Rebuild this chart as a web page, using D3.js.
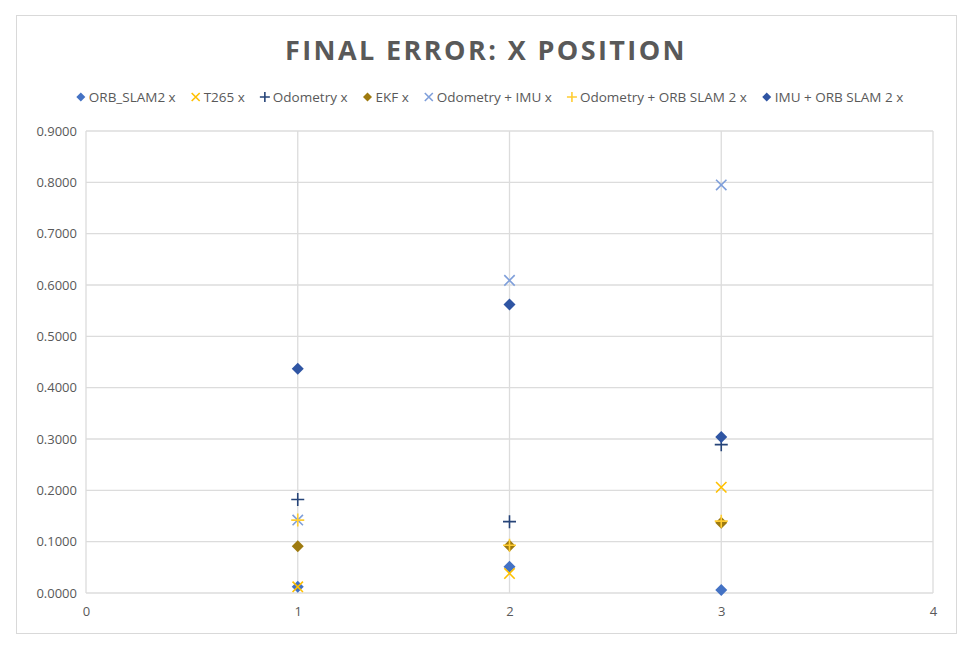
<!DOCTYPE html>
<html><head><meta charset="utf-8">
<script src="https://cdn.jsdelivr.net/npm/d3@7"></script>
<style>body{margin:0;background:#fff;}</style>
</head><body>
<svg id="c" width="970" height="648"></svg>
<script>
const categories = [1, 2, 3];
const seriesNames = ["ORB_SLAM2 x","T265 x","Odometry x","EKF x","Odometry + IMU x","Odometry + ORB SLAM 2 x","IMU + ORB SLAM 2 x"];
const orbSlam2 = [0.012, 0.051, 0.006];
const t265 = [0.012, 0.038, 0.206];
const odometry = [0.182, 0.139, 0.289];
const ekf = [0.091, 0.092, 0.137];
const odoImu = [0.142, 0.609, 0.795];
const odoOrb = [0.142, 0.093, 0.140];
const imuOrb = [0.437, 0.562, 0.304];
const yTicks = [0,0.1,0.2,0.3,0.4,0.5,0.6,0.7,0.8,0.9];
const xTicks = [0,1,2,3,4];

const shapes = ["diamond","x","plus","diamond","x","plus","diamond"];
const colors = ["#4472C4","#FFC000","#264478","#9E7A0F","#7F9FDA","#FFCD33","#2F55A3"];
const values = [orbSlam2,t265,odometry,ekf,odoImu,odoOrb,imuOrb];

const svg = d3.select("#c");
const font = "'Open Sans', 'Liberation Sans', sans-serif";
svg.append("rect").attr("x",16.5).attr("y",15.5).attr("width",940).attr("height",618)
  .attr("fill","#fff").attr("stroke","#d9d9d9");

const m = {l:86, r:933, t:131, b:593};
const x = d3.scaleLinear().domain([0,4]).range([m.l,m.r]);
const y = d3.scaleLinear().domain([0,0.9]).range([m.b,m.t]);

// gridlines
svg.append("g").selectAll("line").data(yTicks).join("line")
  .attr("x1",m.l).attr("x2",m.r).attr("y1",d=>y(d)).attr("y2",d=>y(d))
  .attr("stroke","#dcdcdc").attr("stroke-width",1.3);
svg.append("g").selectAll("line").data(xTicks).join("line")
  .attr("y1",m.t).attr("y2",m.b).attr("x1",d=>x(d)).attr("x2",d=>x(d))
  .attr("stroke","#dcdcdc").attr("stroke-width",1.3);

// axes (labels only)
const yAxis = d3.axisLeft(y).tickValues(yTicks).tickFormat(d3.format(".4f")).tickSize(0).tickPadding(9);
const gy = svg.append("g").attr("transform",`translate(${m.l},0)`).call(yAxis);
gy.select(".domain").remove();
gy.selectAll("text").attr("fill","#595959").style("font-family",font).style("font-size","13px");
const xAxis = d3.axisBottom(x).tickValues(xTicks).tickFormat(d3.format("d")).tickSize(0).tickPadding(14);
const gx = svg.append("g").attr("transform",`translate(0,${m.b})`).call(xAxis);
gx.select(".domain").remove();
gx.selectAll("text").attr("fill","#595959").style("font-family",font).style("font-size","13px");

// title
svg.append("text").attr("x",486).attr("y",60).attr("text-anchor","middle")
  .attr("fill","#595959").style("font-family",font).style("font-weight","700")
  .style("font-size","27px").style("letter-spacing","2.4px").text("FINAL ERROR: X POSITION");

function marker(g, shape, color, s){
  if(shape==="diamond"){
    g.append("path").attr("d",`M0,${-s}L${s},0L0,${s}L${-s},0Z`).attr("fill",color);
  } else if(shape==="x"){
    const k=s*0.8;
    g.append("path").attr("d",`M${-k},${-k}L${k},${k}M${-k},${k}L${k},${-k}`).attr("stroke",color).attr("stroke-width",1.6).attr("fill","none");
  } else {
    g.append("path").attr("d",`M${-s},0L${s},0M0,${-s}L0,${s}`).attr("stroke",color).attr("stroke-width",1.6).attr("fill","none");
  }
}

// points
seriesNames.forEach((name,i)=>{
  values[i].forEach((v,j)=>{
    const g = svg.append("g").attr("transform",`translate(${x(categories[j])},${y(v)})`);
    marker(g, shapes[i], colors[i], shapes[i]==="diamond"?6:6.5);
  });
});

// legend
const lg = svg.append("g");
let cx = 0;
const gap = 16;
seriesNames.forEach((name,i)=>{
  const g = lg.append("g").attr("transform",`translate(${cx},0)`);
  marker(g.append("g").attr("transform","translate(4,0)"), shapes[i], colors[i], shapes[i]==="diamond"?4.5:5);
  const t = g.append("text").attr("x",12).attr("y",4.8).attr("fill","#595959")
    .style("font-family",font).style("font-size","13.5px").text(name);
  const w = t.node().getComputedTextLength();
  cx += 12 + w + gap;
});
const totalW = cx - gap;
lg.attr("transform",`translate(${490 - totalW/2},97)`);
</script>
</body></html>
